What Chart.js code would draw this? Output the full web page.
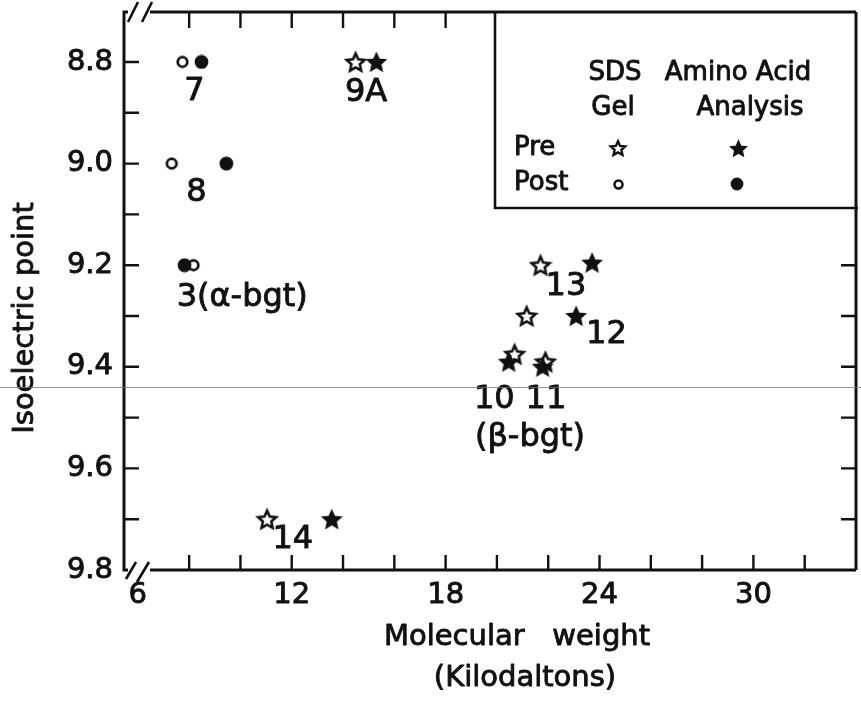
<!DOCTYPE html>
<html><head><meta charset="utf-8">
<style>html,body{margin:0;padding:0;background:#fff;overflow:hidden}#wrap{width:861px;height:702px}</style>
<script src="https://cdn.jsdelivr.net/npm/chart.js@4.4.1/dist/chart.umd.min.js"></script>
</head><body><div id="wrap"><canvas id="c" width="861" height="702"></canvas></div>
<script>
// ---- data ----
const xTickMarks = [8,10,12,14,16,18,20,22,24,26,28,30,32];
const xTickValues = [6,12,18,24,30];
const xTickLabels = ['6','12','18','24','30'];
const yTickMarks = [8.8,8.9,9.0,9.1,9.2,9.3,9.4,9.5,9.6,9.7];
const yTickValues = [8.8,9.0,9.2,9.4,9.6,9.8];
const yTickLabels = ['8.8','9.0','9.2','9.4','9.6','9.8'];

// Pre, SDS gel (open stars): 9A, 13, 12, 10, 11, 14
const sdsPreX = [14.49, 21.70, 21.16, 20.69, 21.89, 11.04];
const sdsPreY = [8.80, 9.20, 9.30, 9.375, 9.39, 9.70];
// Pre, amino acid analysis (filled stars)
const aaPreX = [15.30, 23.71, 23.09, 20.46, 21.78, 13.56];
const aaPreY = [8.80, 9.195, 9.30, 9.39, 9.40, 9.70];
// Post, SDS gel (open circles): 7, 8, 3
const sdsPostX = [7.74, 7.32, 8.17];
const sdsPostY = [8.80, 9.00, 9.20];
// Post, amino acid analysis (filled circles)
const aaPostX = [8.48, 9.45, 7.82];
const aaPostY = [8.80, 9.00, 9.20];

// point annotations
const noteTexts = ['7','8','3(α-bgt)','9A','13','12','10','11','(β-bgt)','14'];
const noteX = [8.21, 8.28, 10.07, 14.90, 22.69, 24.27, 19.90, 21.91, 21.29, 12.04];
const noteY = [8.858, 9.058, 9.263, 8.861, 9.243, 9.337, 9.465, 9.465, 9.540, 9.741];

const scanLineY = 9.44;

// ---- styling ----
const FONT = '"DejaVu Sans", sans-serif';
const INK = '#111';
const TEXT_STROKE = 0.9;

function makeStar(size, filled, lw) {
  const c = document.createElement('canvas');
  c.width = c.height = size;
  const g = c.getContext('2d');
  const cx = size/2, cy = size/2 + size*0.04;
  const R = size/2 - lw, r = R*0.47;
  g.beginPath();
  for (let i = 0; i < 10; i++) {
    const a = -Math.PI/2 + i*Math.PI/5;
    const rr = i % 2 ? r : R;
    const px = cx + rr*Math.cos(a), py = cy + rr*Math.sin(a);
    if (i) g.lineTo(px, py); else g.moveTo(px, py);
  }
  g.closePath();
  g.lineJoin = 'miter';
  if (filled) { g.fillStyle = INK; g.fill(); g.lineWidth = 1.2; g.strokeStyle = INK; g.stroke(); }
  else { g.lineWidth = lw; g.strokeStyle = INK; g.stroke(); }
  return c;
}
function makeCircle(size, filled, lw) {
  const c = document.createElement('canvas');
  c.width = c.height = size;
  const g = c.getContext('2d');
  g.beginPath();
  g.arc(size/2, size/2, size/2 - lw, 0, Math.PI*2);
  if (filled) { g.fillStyle = INK; g.fill(); g.lineWidth = lw; g.strokeStyle = INK; g.stroke(); }
  else { g.lineWidth = lw; g.strokeStyle = INK; g.stroke(); }
  return c;
}
const openStar = makeStar(24, false, 2.6);
const fullStar = makeStar(22, true, 1);
const openCirc = makeCircle(15, false, 2.7);
const fullCirc = makeCircle(15, true, 1.2);
const openStarL = makeStar(20, false, 2.4);
const fullStarL = makeStar(19, true, 1);
const openCircL = makeCircle(13, false, 2.5);
const fullCircL = makeCircle(14, true, 1.2);

const pts = (xs, ys) => xs.map((x, i) => ({x, y: ys[i]}));

const decor = {
  id: 'decor',
  beforeDraw(chart) {
    const g = chart.ctx;
    g.save(); g.fillStyle = '#fff'; g.fillRect(0, 0, chart.width, chart.height); g.restore();
  },
  afterDraw(chart) {
    const g = chart.ctx, a = chart.chartArea;
    const xs = chart.scales.x, ys = chart.scales.y;
    const L = a.left, R = a.right, T = a.top, B = a.bottom;
    const legL = L + 371, legB = T + 196;
    g.save();
    g.strokeStyle = INK; g.lineCap = 'butt';
    // frame
    g.lineWidth = 3;
    g.beginPath();
    g.moveTo(L + 4, T); g.lineTo(L, T); g.lineTo(L, B); g.lineTo(L + 4, B);
    g.moveTo(L + 26, T); g.lineTo(R, T);
    g.moveTo(L + 26, B); g.lineTo(R, B);
    g.moveTo(R, T); g.lineTo(R, B);
    g.stroke();
    // axis breaks
    g.lineWidth = 2.6;
    g.beginPath();
    g.moveTo(L + 4, T + 10); g.lineTo(L + 14, T - 10);
    g.moveTo(L + 18, T + 10); g.lineTo(L + 28, T - 10);
    g.moveTo(L + 2, B + 9); g.lineTo(L + 12, B - 8);
    g.moveTo(L + 13, B + 12); g.lineTo(L + 25, B - 8);
    g.stroke();
    // inward tick marks
    g.lineWidth = 2.4;
    g.beginPath();
    xTickMarks.forEach(v => {
      const p = xs.getPixelForValue(v);
      g.moveTo(p, B); g.lineTo(p, B - 15);
      if (p < legL - 8) { g.moveTo(p, T); g.lineTo(p, T + 16); }
    });
    yTickMarks.forEach(v => {
      const p = ys.getPixelForValue(v);
      g.moveTo(L, p); g.lineTo(L + 15, p);
      if (p > legB + 8) { g.moveTo(R, p); g.lineTo(R - 15, p); }
    });
    g.stroke();
    // legend box
    g.lineWidth = 2.6;
    g.beginPath();
    g.moveTo(legL, T); g.lineTo(legL, legB); g.lineTo(R + 2, legB);
    g.stroke();
    g.fillStyle = INK;
    g.lineWidth = TEXT_STROKE; g.lineJoin = 'round';
    const txt = (t, x, y) => { g.fillText(t, x, y); g.strokeText(t, x, y); };
    g.font = '26px ' + FONT;
    g.textBaseline = 'middle';
    g.textAlign = 'center';
    txt('SDS', legL + 120, T + 61);
    txt('Gel', legL + 118, T + 96);
    txt('Amino Acid', legL + 243, T + 61);
    txt('Analysis', legL + 255, T + 96);
    g.textAlign = 'left';
    txt('Pre', legL + 19, T + 136);
    txt('Post', legL + 19, T + 171);
    const sym = (img, x, y) => g.drawImage(img, Math.round(x - img.width/2), Math.round(y - img.height/2));
    sym(openStarL, legL + 123, T + 136);
    sym(fullStarL, legL + 243, T + 136);
    sym(openCircL, legL + 123, T + 172);
    sym(fullCircL, legL + 242, T + 172);
    // point annotations
    g.textAlign = 'center';
    g.font = '32px ' + FONT;
    noteTexts.forEach((t, i) => {
      txt(t, xs.getPixelForValue(noteX[i]), ys.getPixelForValue(noteY[i]));
    });
    // axis titles
    g.font = '29px ' + FONT;
    txt('Molecular   weight', 517, 637);
    txt('(Kilodaltons)', 525, 678);
    g.save();
    g.translate(25, 318); g.rotate(-Math.PI/2);
    txt('Isoelectric point', 0, 0);
    g.restore();
    // faint scan line
    g.strokeStyle = 'rgba(120,120,120,0.8)'; g.lineWidth = 1;
    const sp = Math.round(ys.getPixelForValue(scanLineY)) + 0.5;
    g.beginPath(); g.moveTo(0, sp); g.lineTo(chart.width, sp); g.stroke();
    g.restore();
  }
};

new Chart(document.getElementById('c'), {
  type: 'scatter',
  data: {
    datasets: [
      {label: 'Pre – SDS Gel', data: pts(sdsPreX, sdsPreY), pointStyle: openStar},
      {label: 'Pre – Amino Acid Analysis', data: pts(aaPreX, aaPreY), pointStyle: fullStar},
      {label: 'Post – SDS Gel', data: pts(sdsPostX, sdsPostY), pointStyle: openCirc},
      {label: 'Post – Amino Acid Analysis', data: pts(aaPostX, aaPostY), pointStyle: fullCirc}
    ]
  },
  options: {
    responsive: false, animation: false, devicePixelRatio: 1,
    layout: {padding: {left: 0, top: 12, right: 1, bottom: 0}},
    plugins: {legend: {display: false}, tooltip: {enabled: false}},
    scales: {
      x: {
        type: 'linear', min: 5.46, max: 34,
        grid: {display: false, drawTicks: false}, border: {display: false},
        ticks: {font: {family: FONT, size: 29}, color: INK, padding: 8, autoSkip: false, maxRotation: 0,
          textStrokeColor: INK, textStrokeWidth: TEXT_STROKE,
          callback: v => { const i = xTickValues.indexOf(v); return i < 0 ? '' : xTickLabels[i]; }},
        afterBuildTicks: s => { s.ticks = xTickValues.map(v => ({value: v})); },
        afterFit: s => { s.height = 132; s.paddingLeft = 0; s.paddingRight = 0; }
      },
      y: {
        type: 'linear', reverse: true, min: 8.7016, max: 9.8,
        grid: {display: false, drawTicks: false}, border: {display: false},
        ticks: {font: {family: FONT, size: 29}, color: INK, padding: 11, autoSkip: false,
          textStrokeColor: INK, textStrokeWidth: TEXT_STROKE,
          callback: v => { const i = yTickValues.findIndex(t => Math.abs(t - v) < 1e-6); return i < 0 ? '' : yTickLabels[i]; }},
        afterBuildTicks: s => { s.ticks = yTickValues.map(v => ({value: v})); },
        afterFit: s => { s.width = 124; s.paddingTop = 0; s.paddingBottom = 0; }
      }
    }
  },
  plugins: [decor]
});
</script></body></html>
